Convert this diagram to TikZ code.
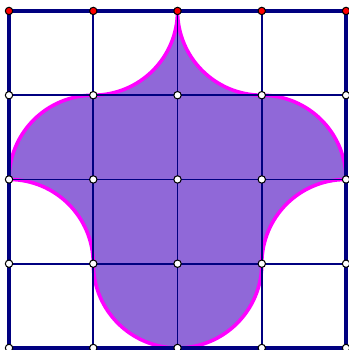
\documentclass[tikz,border=0pt]{standalone}
\usepackage{tikz}
\definecolor{navy}{RGB}{0,0,128}
\definecolor{shade}{RGB}{144,104,216}
\definecolor{rim}{RGB}{255,0,255}
\begin{document}
\begin{tikzpicture}[
    gridline/.style={draw=navy, line width=0.65pt},
    frame/.style={draw=navy, line width=1.3pt},
    blob/.style={fill=shade, draw=rim, line width=1.2pt},
    pt/.style={circle, draw=black, fill=white, line width=0.35pt,
        inner sep=0pt, minimum size=2.5pt},
    redpt/.style={pt, fill=red}
]
\useasboundingbox (-0.107,-0.024) rectangle (4.024,4.130);
% shaded region
\path[blob] (2,4) arc[start angle=0, end angle=-90, radius=1]
    arc[start angle=90, end angle=180, radius=1]
    arc[start angle=90, end angle=0, radius=1]
    arc[start angle=180, end angle=270, radius=1]
    arc[start angle=270, end angle=360, radius=1]
    arc[start angle=180, end angle=90, radius=1]
    arc[start angle=0, end angle=90, radius=1]
    arc[start angle=270, end angle=180, radius=1] -- cycle;
% grid
\foreach \i in {1,2,3} {
    \draw[gridline] (\i,0) -- (\i,4);
    \draw[gridline] (0,\i) -- (4,\i);
}
\draw[frame] (0,0) rectangle (4,4);
% points
\foreach \x in {0,...,4} {
    \foreach \y in {0,...,3}
        \node[pt] (p-\x-\y) at (\x,\y) {};
    \node[redpt] (p-\x-4) at (\x,4) {};
}
\end{tikzpicture}
\end{document}
